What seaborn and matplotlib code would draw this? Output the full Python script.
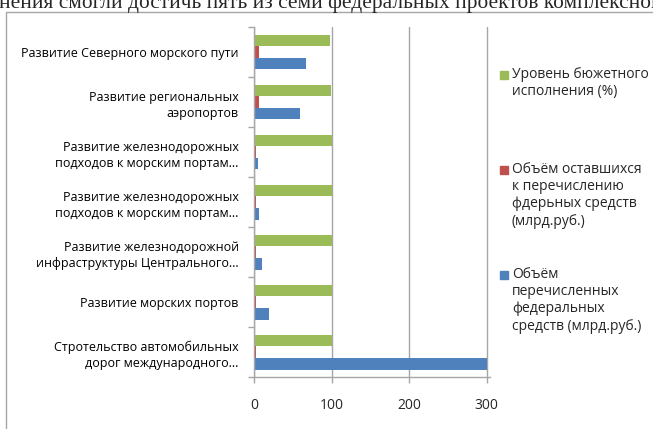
import numpy as np
import pandas as pd
import matplotlib
matplotlib.use("Agg")
import matplotlib.pyplot as plt
from matplotlib.patches import Rectangle
import seaborn as sns

# данные с диаграммы (сверху вниз)
categories = [
    "Развитие Северного морского пути",
    "Развитие региональных\nаэропортов",
    "Развитие железнодорожных\nподходов к морским портам...",
    "Развитие железнодорожных\nподходов к морским портам...",
    "Развитие железнодорожной\nинфраструктуры Центрального...",
    "Развитие морских портов",
    "Стротельство автомобильных\nдорог международного...",
]
series = [
    "Уровень бюжетного\nисполнения (%)",
    "Объём оставшихся\nк перечислению\nфдерьных средств\n(млрд.руб.)",
    "Объём\nперечисленных\nфедеральных\nсредств (млрд.руб.)",
]
budget_level = [98, 99, 100, 100, 100, 100, 100]
remaining = [7, 6, 2, 2, 2, 2, 2]
transferred = [67, 59, 5, 6, 10, 19, 300]
x_ticks = [0, 100, 200, 300]
colors = ["#9BBB59", "#C0504D", "#4F81BD"]

df = pd.DataFrame({
    "idx": list(range(len(categories))) * 3,
    "series": np.repeat(series, len(categories)),
    "value": budget_level + remaining + transferred,
})

sns.set_style("white")
plt.rcParams["font.family"] = ["Open Sans", "DejaVu Sans"]
grey = "#A6A6A6"

fig = plt.figure(figsize=(6.53, 4.29), dpi=100)
W, H = 653, 429
ax = fig.add_axes([254 / W, 1 - 377 / H, 236.4 / W, 350 / H])

sns.barplot(data=df, x="value", y="idx", hue="series", orient="y",
            palette=colors, saturation=1, width=0.7, ax=ax, legend=False,
            linewidth=0)

ax.set_xlim(0, 305)
ax.set_ylim(6.5, -0.5)
ax.set_xticks(x_ticks)
ax.set_xticklabels([str(t) for t in x_ticks], fontsize=10)
ax.set_yticks(range(len(categories)))
ax.set_yticklabels(categories, fontsize=9, linespacing=1.32)
ax.set_yticks(np.arange(-0.5, len(categories), 1), minor=True)
ax.tick_params(axis="y", which="major", length=0, pad=11, colors="#000000")
ax.tick_params(axis="y", which="minor", length=4, color=grey, width=1, left=True)
ax.tick_params(axis="x", length=4, color=grey, width=1, pad=11, bottom=True)
ax.set_xlabel("")
ax.set_ylabel("")

ax.xaxis.grid(True, color=grey, lw=1)
ax.set_axisbelow(True)
for s in ["top", "right"]:
    ax.spines[s].set_visible(False)
for s in ["left", "bottom"]:
    ax.spines[s].set_color(grey)
    ax.spines[s].set_linewidth(1)

# легенда справа, маркер у первой строки
legend_y = [75, 170, 275]
for lab, col, yy in zip(series, colors, legend_y):
    fig.patches.append(Rectangle((500 / W, 1 - (yy + 4) / H), 8 / W, 8 / H,
                                 transform=fig.transFigure, color=col))
    fig.text(512 / W, 1 - (yy - 8) / H, lab, fontsize=10, va="top",
             ha="left", linespacing=1.2)

# рамка диаграммы
fig.patches.append(Rectangle((6 / W, -0.1), 2, 1 - 12 / H + 0.1,
                             transform=fig.transFigure, fill=False,
                             edgecolor=grey, lw=1))

# обрезанный текст документа сверху
fig.text(-1 / W, 1 - 8 / H,
         "нения смогли достичь пять из семи федеральных проектов комплексной",
         fontsize=15.4, family="Liberation Serif", va="baseline", ha="left")

fig.savefig("out.png", dpi=100)
